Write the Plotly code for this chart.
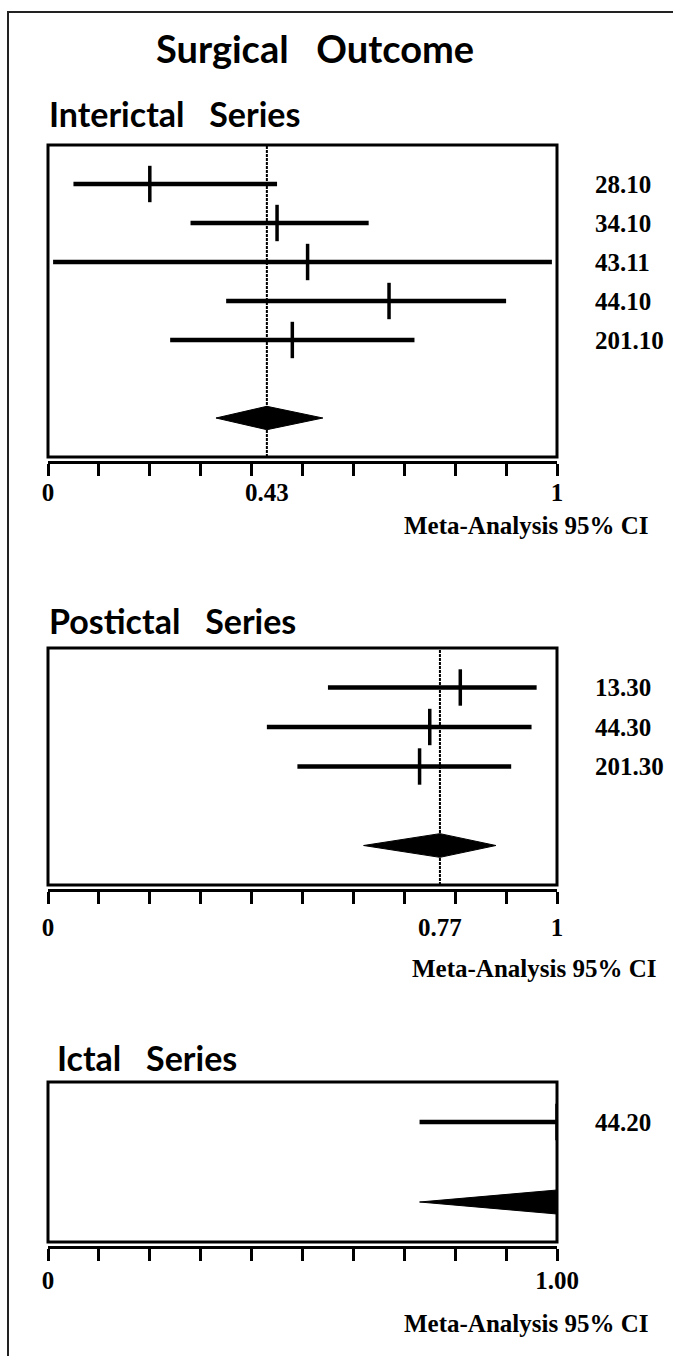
import plotly.graph_objects as go

W, H = 673, 1356

# ---------------- data ----------------
title_text = "Surgical\u00a0\u00a0\u00a0Outcome"
xlabel_text = "Meta-Analysis 95% CI"

inter_name = "Interictal\u00a0\u00a0\u00a0Series"
inter_ids = ["28.10", "34.10", "43.11", "44.10", "201.10"]
inter_lo = [0.05, 0.28, 0.01, 0.35, 0.24]
inter_est = [0.20, 0.45, 0.51, 0.67, 0.48]
inter_hi = [0.45, 0.63, 0.99, 0.90, 0.72]
inter_meta = [0.33, 0.43, 0.54]          # lo, est, hi
inter_tickvals = [0, 0.43, 1]
inter_ticktext = ["0", "0.43", "1"]

post_name = "Postictal\u00a0\u00a0\u00a0Series"
post_ids = ["13.30", "44.30", "201.30"]
post_lo = [0.55, 0.43, 0.49]
post_est = [0.81, 0.75, 0.73]
post_hi = [0.96, 0.95, 0.91]
post_meta = [0.62, 0.77, 0.88]
post_tickvals = [0, 0.77, 1]
post_ticktext = ["0", "0.77", "1"]

ictal_name = "Ictal\u00a0\u00a0\u00a0Series"
ictal_ids = ["44.20"]
ictal_lo = [0.73]
ictal_est = [1.00]
ictal_hi = [1.00]
ictal_meta = [0.73, 1.00, 1.00]
ictal_tickvals = [0, 1.00]
ictal_ticktext = ["0", "1.00"]

minor_ticks = [k / 10 for k in range(11)]

# ---------------- layout geometry (pixels) ----------------
panels = [
    dict(name=inter_name, ids=inter_ids, lo=inter_lo, est=inter_est, hi=inter_hi,
         meta=inter_meta, tv=inter_tickvals, tt=inter_ticktext,
         top=145, bottom=457, head_y=113, head_x=47, lab_x=650, lab_y=525, tl=8),
    dict(name=post_name, ids=post_ids, lo=post_lo, est=post_est, hi=post_hi,
         meta=post_meta, tv=post_tickvals, tt=post_ticktext,
         top=648, bottom=885, head_y=620, head_x=47, lab_x=658, lab_y=968, tl=15),
    dict(name=ictal_name, ids=ictal_ids, lo=ictal_lo, est=ictal_est, hi=ictal_hi,
         meta=ictal_meta, tv=ictal_tickvals, tt=ictal_ticktext,
         top=1082, bottom=1242, head_y=1057, head_x=55, lab_x=650, lab_y=1323, tl=11),
]

X0, X1 = 48, 557
SERIF = dict(family="Liberation Serif", size=25, color="black", weight="bold")
SANS = "Lato"

fig = go.Figure()
layout = dict(width=W, height=H, autosize=False, margin=dict(l=0, r=0, t=0, b=0),
              paper_bgcolor="white", plot_bgcolor="white", showlegend=False)
shapes = []
annotations = []

for i, p in enumerate(panels):
    n = len(p["ids"])
    xs = "x" if i == 0 else f"x{i+1}"
    ys = "y" if i == 0 else f"y{i+1}"
    xl = f"x{i+4}"
    xkey = "xaxis" if i == 0 else f"xaxis{i+1}"
    ykey = "yaxis" if i == 0 else f"yaxis{i+1}"
    xlkey = f"xaxis{i+4}"
    rows = list(range(1, n + 1))
    mrow = n + 2
    yrange = [n + 3, 0]
    h = 0.3
    xdom = [X0 / W, X1 / W]
    ydom = [1 - p["bottom"] / H, 1 - p["top"] / H]
    axpos = 1 - (p["bottom"] + 5) / H

    # CI lines
    for lo, hi, r in zip(p["lo"], p["hi"], rows):
        fig.add_trace(go.Scatter(x=[lo, hi], y=[r, r], mode="lines",
                                 line=dict(color="black", width=4.5),
                                 xaxis=xs, yaxis=ys, hoverinfo="skip"))
    # point estimates
    fig.add_trace(go.Scatter(x=p["est"], y=rows, mode="markers",
                             marker=dict(symbol="line-ns", size=26, color="black",
                                         line=dict(color="black", width=3.5)),
                             xaxis=xs, yaxis=ys, hoverinfo="skip"))
    # meta-analysis diamond
    mlo, mest, mhi = p["meta"]
    fig.add_trace(go.Scatter(x=[mlo, mest, mhi, mest, mlo],
                             y=[mrow, mrow - h, mrow, mrow + h, mrow],
                             mode="lines", fill="toself", fillcolor="black",
                             line=dict(color="black", width=1),
                             xaxis=xs, yaxis=ys, hoverinfo="skip"))
    # invisible trace to host the label axis
    fig.add_trace(go.Scatter(x=[mest], y=[mrow], mode="markers",
                             marker=dict(opacity=0), xaxis=xl, yaxis=ys,
                             hoverinfo="skip"))

    layout[xkey] = dict(domain=xdom, range=[0, 1], anchor="free", position=axpos,
                        showline=True, linewidth=3, linecolor="black",
                        tickmode="array", tickvals=minor_ticks, ticks="outside",
                        ticklen=12, tickwidth=3, tickcolor="black",
                        showticklabels=False, showgrid=False, zeroline=False,
                        automargin=False, fixedrange=True)
    layout[xlkey] = dict(domain=xdom, range=[0, 1], anchor="free", position=axpos,
                         overlaying=xs, side="bottom", showline=False,
                         tickmode="array", tickvals=p["tv"], ticktext=p["tt"],
                         ticks="outside", ticklen=p["tl"], tickcolor="rgba(0,0,0,0)",
                         tickfont=SERIF, showgrid=False, zeroline=False,
                         automargin=False, fixedrange=True)
    layout[ykey] = dict(domain=ydom, range=yrange, anchor=xs, side="right",
                        tickmode="array", tickvals=rows, ticktext=p["ids"],
                        ticks="outside", ticklen=32, tickcolor="rgba(0,0,0,0)",
                        tickfont=SERIF, showline=False, showgrid=False,
                        zeroline=False, automargin=False, fixedrange=True)

    # plot box
    shapes.append(dict(type="rect", xref=f"{xs} domain", yref=f"{ys} domain",
                       x0=0, x1=1, y0=0, y1=1, line=dict(color="black", width=3)))
    # meta estimate reference line
    shapes.append(dict(type="line", xref=xs, yref=f"{ys} domain",
                       x0=mest, x1=mest, y0=0, y1=1,
                       line=dict(color="black", width=2, dash="3px,1px")))
    # heading
    annotations.append(dict(text=p["name"], xref="paper", yref="paper",
                            x=p["head_x"] / W, y=1 - p["head_y"] / H,
                            xanchor="left", yanchor="middle", showarrow=False,
                            font=dict(family=SANS, size=34, color="black", weight="bold")))
    # x label
    annotations.append(dict(text=xlabel_text, xref="paper", yref="paper",
                            x=p["lab_x"] / W, y=1 - p["lab_y"] / H,
                            xanchor="right", yanchor="middle", showarrow=False,
                            font=SERIF))

annotations.append(dict(text=title_text, xref="paper", yref="paper",
                        x=315 / W, y=1 - 48 / H, xanchor="center", yanchor="middle",
                        showarrow=False,
                        font=dict(family=SANS, size=38, color="black", weight="bold")))

# outer frame (right and bottom sides fall outside the page, as in the scan)
shapes.append(dict(type="rect", xref="paper", yref="paper",
                   x0=8 / W, x1=1.2, y0=-0.05, y1=1 - 12 / H,
                   line=dict(color="#222222", width=2)))

layout["shapes"] = shapes
layout["annotations"] = annotations
fig.update_layout(**layout)
fig.write_html(
    "out.html",
    config={"responsive": False, "displayModeBar": False},
    post_script="document.body.style.margin='0';document.body.style.padding='0';"
                "document.body.style.overflow='hidden';",
)
